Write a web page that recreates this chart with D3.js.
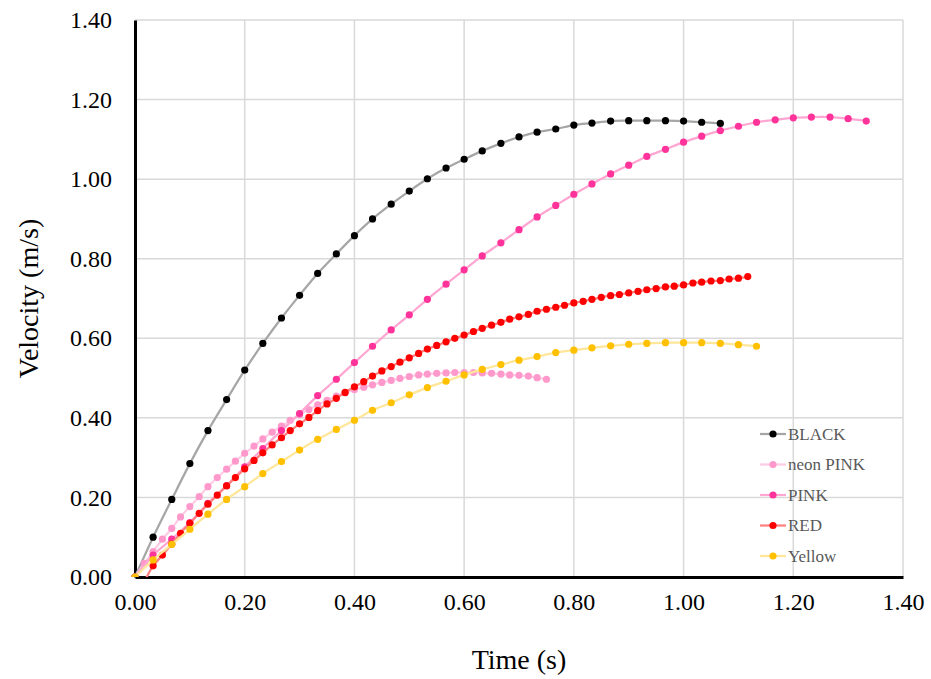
<!DOCTYPE html>
<html>
<head>
<meta charset="utf-8">
<script src="https://cdn.jsdelivr.net/npm/d3@7.8.5/dist/d3.min.js"></script>
<style>
    html, body { margin: 0; padding: 0; background: #ffffff; }
    #chart { width: 931px; height: 679px; }
    text { font-family: "Liberation Serif", "Times New Roman", serif; }
</style>
</head>
<body>
<div id="chart"></div>
<script>
// Frame times (s): 30 fps and 60 fps recordings
const time30 = [0, 0.033, 0.067, 0.1, 0.133, 0.167, 0.2, 0.233, 0.267, 0.3, 0.333, 0.367, 0.4, 0.433,
    0.467, 0.5, 0.533, 0.567, 0.6, 0.633, 0.667, 0.7, 0.733, 0.767, 0.8, 0.833, 0.867, 0.9, 0.933, 0.967,
    1.0, 1.033, 1.067, 1.1, 1.133, 1.167, 1.2, 1.233, 1.267, 1.3, 1.333];
const time60 = [0, 0.017, 0.033, 0.05, 0.067, 0.083, 0.1, 0.117, 0.133, 0.15, 0.167, 0.183, 0.2, 0.217,
    0.233, 0.25, 0.267, 0.283, 0.3, 0.317, 0.333, 0.35, 0.367, 0.383, 0.4, 0.417, 0.433, 0.45, 0.467, 0.483,
    0.5, 0.517, 0.533, 0.55, 0.567, 0.583, 0.6, 0.617, 0.633, 0.65, 0.667, 0.683, 0.7, 0.717, 0.733, 0.75,
    0.767, 0.783, 0.8, 0.817, 0.833, 0.85, 0.867, 0.883, 0.9, 0.917, 0.933, 0.95, 0.967, 0.983, 1.0, 1.017,
    1.033, 1.05, 1.067, 1.083, 1.1, 1.117];

// Velocities (m/s)
const blackV = [0, 0.10, 0.195, 0.285, 0.368, 0.446, 0.52, 0.587, 0.651, 0.708, 0.763, 0.812, 0.858,
    0.90, 0.937, 0.97, 1.001, 1.028, 1.05, 1.071, 1.09, 1.106, 1.118, 1.126, 1.136, 1.141, 1.146, 1.147,
    1.147, 1.147, 1.146, 1.143, 1.14];
const neonPinkV = [0, 0.034, 0.064, 0.095, 0.122, 0.151, 0.177, 0.202, 0.227, 0.25, 0.271, 0.291, 0.311,
    0.329, 0.347, 0.364, 0.379, 0.394, 0.408, 0.421, 0.433, 0.444, 0.455, 0.463, 0.471, 0.477, 0.483,
    0.489, 0.494, 0.499, 0.504, 0.508, 0.51, 0.512, 0.513, 0.514, 0.514, 0.514, 0.513, 0.512, 0.51, 0.508,
    0.507, 0.505, 0.501, 0.497];
const pinkV = [0, 0.055, 0.095, 0.137, 0.185, 0.23, 0.277, 0.323, 0.368, 0.411, 0.456, 0.497, 0.539,
    0.58, 0.621, 0.659, 0.698, 0.736, 0.772, 0.807, 0.84, 0.873, 0.905, 0.934, 0.962, 0.988, 1.013, 1.035,
    1.057, 1.075, 1.093, 1.108, 1.122, 1.133, 1.143, 1.149, 1.154, 1.156, 1.156, 1.152, 1.146];
// first RED reading sits just under zero and is clipped by the plot area
const redV = [-0.012, 0.028, 0.055, 0.083, 0.11, 0.135, 0.16, 0.183, 0.206, 0.229, 0.25, 0.272, 0.293, 0.312,
    0.332, 0.35, 0.368, 0.385, 0.401, 0.418, 0.435, 0.449, 0.464, 0.478, 0.491, 0.505, 0.518, 0.529, 0.54,
    0.551, 0.562, 0.573, 0.582, 0.591, 0.60, 0.608, 0.617, 0.625, 0.633, 0.64, 0.648, 0.654, 0.66, 0.668,
    0.673, 0.678, 0.683, 0.689, 0.693, 0.698, 0.703, 0.707, 0.71, 0.714, 0.718, 0.722, 0.725, 0.729, 0.731,
    0.734, 0.739, 0.741, 0.744, 0.745, 0.749, 0.751, 0.755];
const yellowV = [0, 0.043, 0.082, 0.12, 0.158, 0.195, 0.227, 0.26, 0.29, 0.319, 0.346, 0.371, 0.394,
    0.419, 0.438, 0.458, 0.476, 0.492, 0.508, 0.522, 0.534, 0.545, 0.554, 0.564, 0.57, 0.576, 0.581,
    0.585, 0.587, 0.589, 0.589, 0.589, 0.587, 0.584, 0.58];

const seriesNames = ['BLACK', 'neon PINK', 'PINK', 'RED', 'Yellow'];
const xTicks = [0, 0.2, 0.4, 0.6, 0.8, 1.0, 1.2, 1.4];
const yTicks = [0, 0.2, 0.4, 0.6, 0.8, 1.0, 1.2, 1.4];

// Style per series (marker colour, line colour)
const styles = {
    'BLACK': { marker: '#000000', line: '#a6a6a6' },
    'neon PINK': { marker: '#ff99cc', line: '#ffcce6' },
    'PINK': { marker: '#ff3399', line: '#ffa6d2' },
    'RED': { marker: '#ff0000', line: '#ff8080' },
    'Yellow': { marker: '#ffc000', line: '#ffe699' }
};

const zip = (t, v) => v.map((d, i) => ({ t: t[i], v: d }));
const series = [
    { name: 'BLACK', points: zip(time30, blackV) },
    { name: 'neon PINK', points: zip(time60, neonPinkV) },
    { name: 'PINK', points: zip(time30, pinkV) },
    { name: 'RED', points: zip(time60.slice(1), redV) },
    { name: 'Yellow', points: zip(time30, yellowV) }
];

const width = 931;
const height = 679;
const margin = { top: 20, right: 28, bottom: 102, left: 135 };

const svg = d3.select('#chart').append('svg')
    .attr('width', width)
    .attr('height', height);

const x = d3.scaleLinear().domain([0, 1.4]).range([margin.left, width - margin.right]);
const y = d3.scaleLinear().domain([0, 1.4]).range([height - margin.bottom, margin.top]);

svg.append('defs')
    .append('clipPath')
    .attr('id', 'plot-clip')
    .append('rect')
    .attr('x', x(0) - 6)
    .attr('y', y(1.4))
    .attr('width', x(1.4) - x(0) + 6)
    .attr('height', y(0) - y(1.4));

// Gridlines
svg.append('g')
    .attr('class', 'grid-x')
    .selectAll('line')
    .data(xTicks.slice(1))
    .enter()
    .append('line')
    .attr('x1', d => x(d))
    .attr('x2', d => x(d))
    .attr('y1', y(0))
    .attr('y2', y(1.4))
    .attr('stroke', '#d9d9d9')
    .attr('stroke-width', 1.5);

svg.append('g')
    .attr('class', 'grid-y')
    .selectAll('line')
    .data(yTicks.slice(1))
    .enter()
    .append('line')
    .attr('x1', x(0))
    .attr('x2', x(1.4))
    .attr('y1', d => y(d))
    .attr('y2', d => y(d))
    .attr('stroke', '#d9d9d9')
    .attr('stroke-width', 1.5);

// Axes
const xAxis = svg.append('g')
    .attr('transform', `translate(0,${y(0)})`)
    .call(d3.axisBottom(x).tickValues(xTicks).tickFormat(d3.format('.2f')).tickSize(0).tickPadding(16));
xAxis.select('.domain').attr('stroke', '#000').attr('stroke-width', 3);
xAxis.selectAll('text').style('font-size', '24px').attr('fill', '#000');

const yAxis = svg.append('g')
    .attr('transform', `translate(${x(0)},0)`)
    .call(d3.axisLeft(y).tickValues(yTicks).tickFormat(d3.format('.2f')).tickSize(0).tickPadding(23));
yAxis.select('.domain').attr('stroke', '#000').attr('stroke-width', 3);
yAxis.selectAll('text').style('font-size', '24px').attr('fill', '#000');

// Axis titles
svg.append('text')
    .attr('x', (x(0) + x(1.4)) / 2)
    .attr('y', 669)
    .attr('text-anchor', 'middle')
    .style('font-size', '28px')
    .text('Time (s)');

svg.append('text')
    .attr('transform', `translate(38,${(y(0) + y(1.4)) / 2}) rotate(-90)`)
    .attr('text-anchor', 'middle')
    .style('font-size', '28px')
    .text('Velocity (m/s)');

// Series: smooth line then markers
const line = d3.line()
    .x(d => x(d.t))
    .y(d => y(d.v))
    .curve(d3.curveCatmullRom.alpha(0.5));

const plot = svg.append('g').attr('clip-path', 'url(#plot-clip)');

series.forEach(s => {
    const g = plot.append('g').attr('class', 'series');
    g.append('path')
        .datum(s.points)
        .attr('fill', 'none')
        .attr('stroke', styles[s.name].line)
        .attr('stroke-width', 2.25)
        .attr('d', line);
    g.selectAll('circle')
        .data(s.points.filter(d => d.v >= 0))
        .enter()
        .append('circle')
        .attr('cx', d => x(d.t))
        .attr('cy', d => y(d.v))
        .attr('r', 3.6)
        .attr('fill', styles[s.name].marker);
});

// Legend
const legend = svg.append('g')
    .attr('transform', 'translate(760,434)');

const items = legend.selectAll('.legend-item')
    .data(seriesNames)
    .enter()
    .append('g')
    .attr('class', 'legend-item')
    .attr('transform', (d, i) => `translate(0,${i * 30.5})`);

items.append('line')
    .attr('x1', 0)
    .attr('x2', 26)
    .attr('stroke', d => styles[d].line)
    .attr('stroke-width', 2.25);

items.append('circle')
    .attr('cx', 13)
    .attr('r', 3.6)
    .attr('fill', d => styles[d].marker);

items.append('text')
    .attr('x', 28)
    .attr('dy', '0.35em')
    .style('font-size', '17px')
    .attr('fill', '#595959')
    .text(d => d);
</script>
</body>
</html>
